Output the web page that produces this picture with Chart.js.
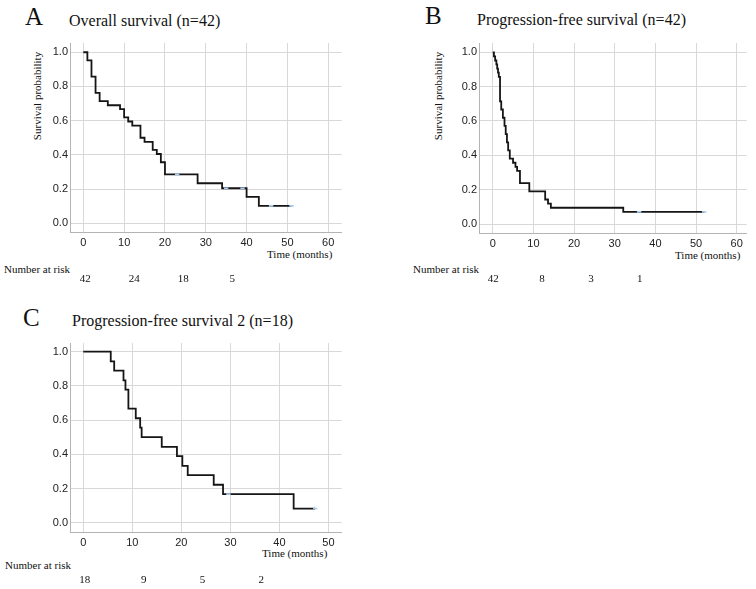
<!DOCTYPE html>
<html><head><meta charset="utf-8">
<script src="https://cdn.jsdelivr.net/npm/chart.js@4.4.1/dist/chart.umd.min.js"></script>
<style>
body{margin:0;width:756px;height:589px;background:#fff;position:relative;overflow:hidden;font-family:"Liberation Serif","Times New Roman",serif;color:#111}
.t{position:absolute;white-space:nowrap;line-height:1}
.rot{position:absolute;white-space:nowrap;line-height:1;transform:translate(-50%,-50%) rotate(-90deg)}
.wrap{position:absolute}
</style></head><body>

<div class="t" style="left:25px;top:4px;font-size:25px">A</div>
<div class="t" style="left:69px;top:12.6px;font-size:16px">Overall survival (n=42)</div>
<div class="rot" style="left:37px;top:96px;font-size:11px">Survival probability</div>
<div class="t" style="left:267px;top:249px;font-size:11px">Time (months)</div>
<div class="t" style="left:4px;top:263.5px;font-size:11px">Number at risk</div>

<div class="t" style="left:425px;top:3px;font-size:25px">B</div>
<div class="t" style="left:477px;top:11.6px;font-size:16px">Progression-free survival (n=42)</div>
<div class="rot" style="left:438px;top:96px;font-size:11px">Survival probability</div>
<div class="t" style="left:675px;top:250px;font-size:11px">Time (months)</div>
<div class="t" style="left:413px;top:264px;font-size:11px">Number at risk</div>

<div class="t" style="left:23px;top:305px;font-size:25px">C</div>
<div class="t" style="left:72px;top:312.6px;font-size:16px">Progression-free survival 2 (n=18)</div>
<div class="t" style="left:262px;top:547.5px;font-size:11px">Time (months)</div>
<div class="t" style="left:5px;top:560px;font-size:11px">Number at risk</div>

<div class="wrap" style="left:0;top:30px;width:370px;height:260px"><canvas id="cA" width="370" height="260"></canvas></div>
<div class="wrap" style="left:390px;top:30px;width:366px;height:260px"><canvas id="cB" width="366" height="260"></canvas></div>
<div class="wrap" style="left:0;top:330px;width:370px;height:260px"><canvas id="cC" width="370" height="260"></canvas></div>

<script>
// ---- Data ----
const osTimes = [0, 1, 2, 3, 4, 6, 9, 10, 11, 12, 14, 15, 17, 18, 19, 20, 28, 34, 40, 43, 51];
const osSurv  = [1.0, 0.952, 0.857, 0.762, 0.714, 0.690, 0.667, 0.619, 0.595, 0.571, 0.500, 0.476, 0.429, 0.405, 0.357, 0.286, 0.234, 0.205, 0.154, 0.102, 0.102];
const osCensorTimes = [23, 35, 39, 46, 51];
const osCensorSurv  = [0.286, 0.205, 0.205, 0.102, 0.102];
const osRisk = [42, 24, 18, 5];

const pfsTimes = [0, 0.3, 0.6, 0.9, 1.1, 1.3, 1.5, 1.8, 2.1, 2.5, 2.9, 3.2, 3.5, 3.8, 4.2, 5.0, 5.6, 6.0, 6.7, 9.0, 12.9, 13.6, 14.3, 32.1, 52];
const pfsSurv  = [1.0, 0.976, 0.952, 0.929, 0.905, 0.881, 0.857, 0.714, 0.667, 0.619, 0.571, 0.524, 0.476, 0.429, 0.381, 0.357, 0.333, 0.310, 0.238, 0.190, 0.143, 0.119, 0.095, 0.071, 0.071];
const pfsCensorTimes = [36, 52];
const pfsCensorSurv  = [0.071, 0.071];
const pfsRisk = [42, 8, 3, 1];

const pfs2Times = [0, 5.6, 6.3, 8.2, 8.6, 9.2, 10.7, 11.6, 11.9, 16.0, 19.1, 20.2, 21.3, 26.6, 28.5, 42.9, 47.3];
const pfs2Surv  = [1.0, 0.944, 0.889, 0.833, 0.778, 0.667, 0.611, 0.556, 0.500, 0.444, 0.389, 0.333, 0.278, 0.222, 0.167, 0.083, 0.083];
const pfs2CensorTimes = [29.6, 47.3];
const pfs2CensorSurv  = [0.167, 0.083];
const pfs2Risk = [18, 9, 5, 2];

const riskTimes = [0, 12, 24, 36];
const xTicksAB = [0, 10, 20, 30, 40, 50, 60];
const xTicksC  = [0, 10, 20, 30, 40, 50];
const yTicks   = [0, 0.2, 0.4, 0.6, 0.8, 1.0];

// ---- Chart builder ----
function makeKM(id, times, surv, cT, cS, risk, xTicks, cfg) {
  const riskPlugin = {
    id: 'risk' + id,
    afterDraw(chart) {
      const ctx = chart.ctx, xs = chart.scales.x, ca = chart.chartArea;
      ctx.save();
      ctx.font = '11px "Liberation Serif", serif';
      ctx.fillStyle = '#111';
      ctx.textAlign = 'center';
      ctx.textBaseline = 'alphabetic';
      risk.forEach((r, i) => {
        ctx.fillText(String(r), xs.getPixelForValue(riskTimes[i]) + cfg.riskDx, ca.bottom + cfg.riskDy);
      });
      ctx.restore();
    }
  };
  return new Chart(document.getElementById(id), {
    type: 'line',
    data: {
      datasets: [
        {
          data: cT.map((t, i) => ({x: t, y: cS[i]})),
          showLine: false,
          pointStyle: 'line',
          pointRadius: 2.2,
          pointBorderWidth: 1.6,
          borderColor: '#a8cdf0',
          backgroundColor: '#a8cdf0'
        },
        {
          data: times.map((t, i) => ({x: t, y: surv[i]})),
          stepped: 'before',
          borderColor: '#151515',
          borderWidth: 1.8,
          pointRadius: 0,
          fill: false
        }
      ]
    },
    options: {
      responsive: false,
      animation: false,
      events: [],
      layout: {padding: cfg.pad},
      plugins: {legend: {display: false}, tooltip: {enabled: false}, title: {display: false}},
      scales: {
        x: {
          type: 'linear', min: cfg.xMin, max: cfg.xMax,
          afterBuildTicks: s => { s.ticks = xTicks.map(v => ({value: v})); },
          afterFit: s => { s.height = 20; },
          ticks: {font: {family: '"Liberation Sans", Arial, sans-serif', size: 11}, color: '#222', padding: 4, maxRotation: 0, autoSkip: false},
          grid: {color: '#d8d8d8', lineWidth: 1, drawTicks: false},
          border: {color: '#b4b4b4', width: 1}
        },
        y: {
          type: 'linear', min: cfg.yMin, max: cfg.yMax,
          afterBuildTicks: s => { s.ticks = yTicks.map(v => ({value: v})); },
          afterFit: s => { s.width = cfg.yW; },
          ticks: {font: {family: '"Liberation Sans", Arial, sans-serif', size: 11}, color: '#222', padding: 2, callback: v => Number(v).toFixed(1)},
          grid: {color: '#d8d8d8', lineWidth: 1, drawTicks: false},
          border: {color: '#b4b4b4', width: 1}
        }
      }
    },
    plugins: [riskPlugin]
  });
}

makeKM('cA', osTimes, osSurv, osCensorTimes, osCensorSurv, osRisk, xTicksAB,
  {xMin: -3.26, xMax: 63.3, yMin: -0.055, yMax: 1.054, yW: 70, pad: {left: 0, top: 13, right: 28.3, bottom: 37.3}, riskDx: 2, riskDy: 49});
makeKM('cB', pfsTimes, pfsSurv, pfsCensorTimes, pfsCensorSurv, pfsRisk, xTicksAB,
  {xMin: -3.37, xMax: 62.45, yMin: -0.052, yMax: 1.054, yW: 89, pad: {left: 0, top: 13, right: 9.3, bottom: 37}, riskDx: 0.6, riskDy: 48.7});
makeKM('cC', pfs2Times, pfs2Surv, pfs2CensorTimes, pfs2CensorSurv, pfs2Risk, xTicksC,
  {xMin: -2.71, xMax: 52.7, yMin: -0.056, yMax: 1.051, yW: 70, pad: {left: 0, top: 13, right: 28.3, bottom: 37.7}, riskDx: 1.5, riskDy: 51});
</script>
</body></html>
